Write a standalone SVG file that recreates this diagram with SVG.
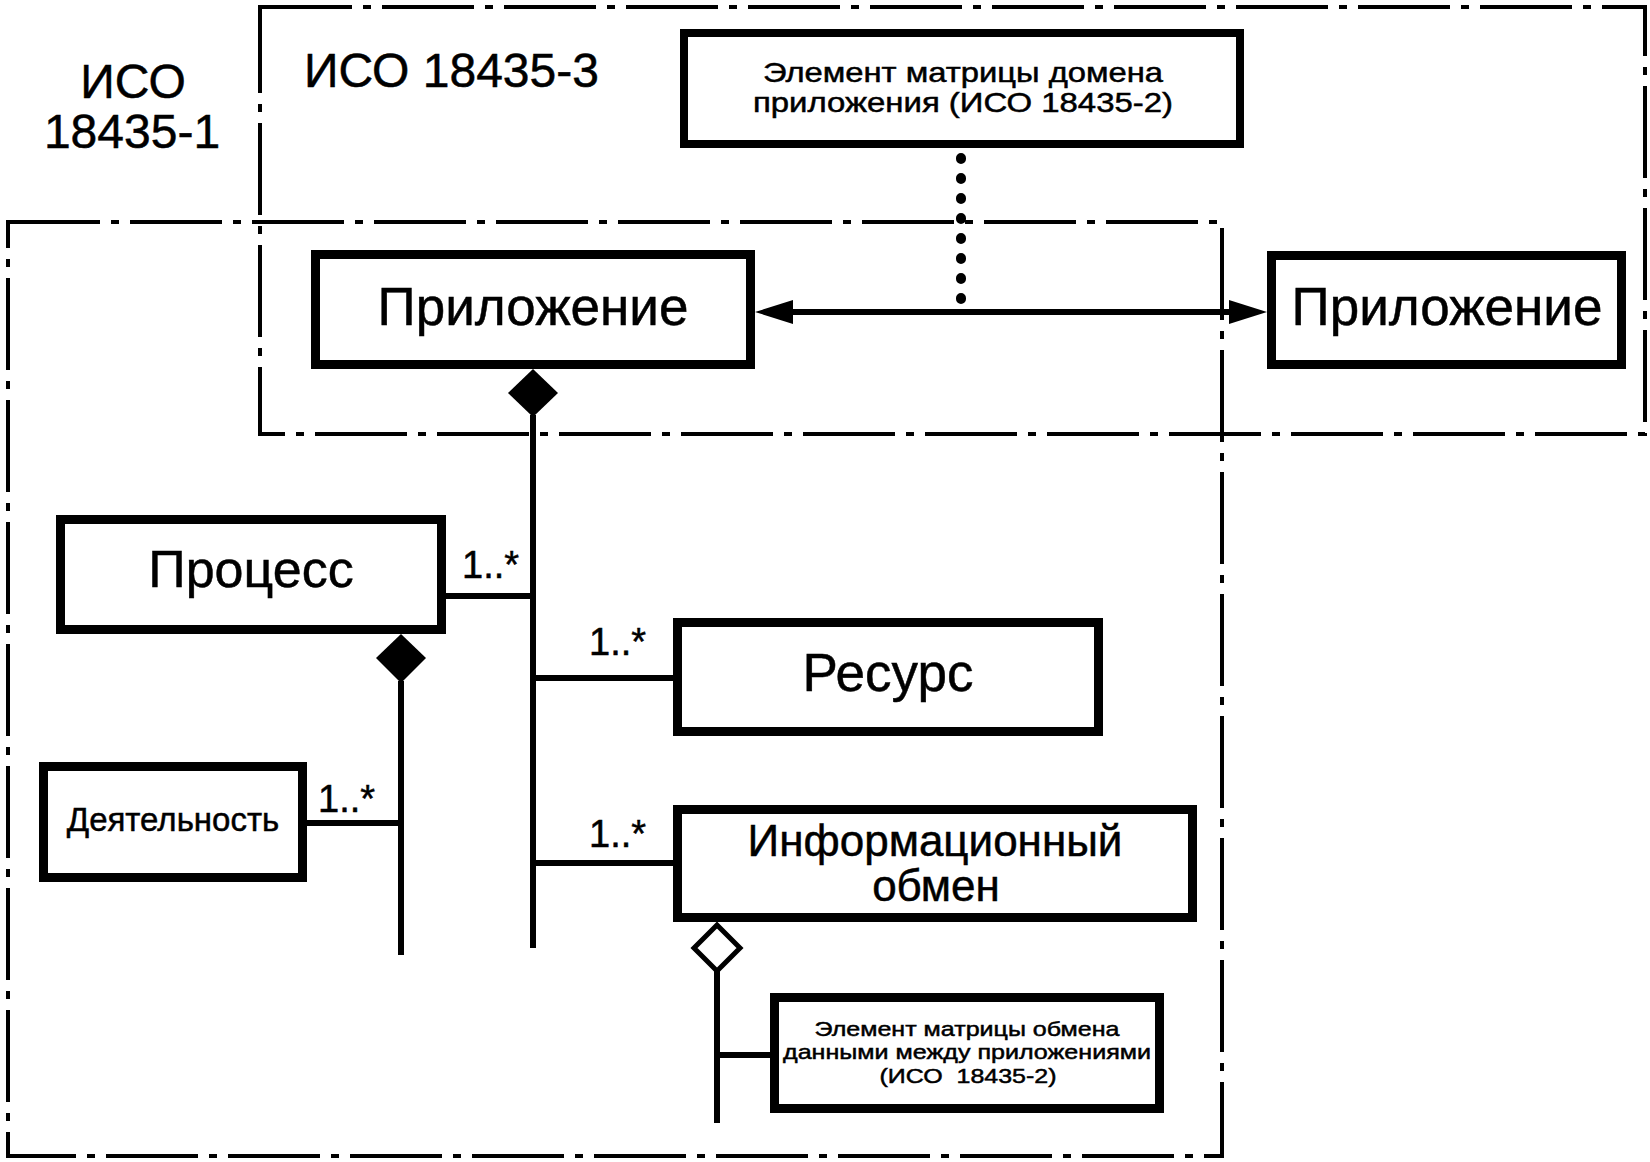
<svg xmlns="http://www.w3.org/2000/svg" width="1650" height="1162" viewBox="0 0 1650 1162">
<style>
text{font-family:"Liberation Sans",Arial,sans-serif;fill:#000;text-anchor:middle;stroke:#000;stroke-width:0.5}
.box{fill:#fff;stroke:#000;stroke-width:9}
.frame{fill:none;stroke:#000;stroke-width:4;stroke-dasharray:92 11 8 11}
.conn{stroke:#000;stroke-width:6;fill:none}
.mult{font-size:38px;text-anchor:start}
.small{font-size:28px}
.tiny{font-size:21px}
</style>
<rect width="1650" height="1162" fill="#fff"/>
<g id="frame-iso3">
<rect class="frame" x="260" y="7" width="1385" height="427"/>
<text x="304" y="87" font-size="48" style="text-anchor:start">ИСО 18435-3</text>
</g>
<g id="frame-iso1">
<rect class="frame" x="8" y="222" width="1214" height="934"/>
<text x="133" y="98" font-size="48">ИСО</text>
<text x="132" y="148" font-size="48">18435-1</text>
</g>
<g id="connectors">
<line class="conn" x1="533" y1="415" x2="533" y2="948"/>
<polygon points="533,369 558,393 533,417 508,393" fill="#000"/>
<line class="conn" x1="446" y1="596" x2="533" y2="596"/>
<line class="conn" x1="533" y1="678" x2="673" y2="678"/>
<line class="conn" x1="533" y1="863" x2="673" y2="863"/>
<line class="conn" x1="401" y1="681" x2="401" y2="955"/>
<polygon points="401,634 426,658 401,683 376,658" fill="#000"/>
<line class="conn" x1="307" y1="823" x2="401" y2="823"/>
<line class="conn" x1="717" y1="970" x2="717" y2="1123"/>
<polygon points="717,925 740,948 717,971 694,948" fill="#fff" stroke="#000" stroke-width="5"/>
<line class="conn" x1="717" y1="1055" x2="770" y2="1055"/>
<line class="conn" x1="790" y1="312" x2="1232" y2="312"/>
<polygon points="755,312 793,300 793,324" fill="#000"/>
<polygon points="1267,312 1229,300 1229,324" fill="#000"/>
<line x1="961" y1="158" x2="961" y2="299" stroke="#000" stroke-width="10" stroke-linecap="round" stroke-dasharray="1 19"/>
<text class="mult" x="462" y="578">1..*</text>
<text class="mult" x="589" y="655">1..*</text>
<text class="mult" x="589" y="847">1..*</text>
<text class="mult" x="318" y="812">1..*</text>
</g>
<g id="node-domain-element">
<rect class="box" x="684" y="33" width="556" height="111" style="stroke-width:8"/>
<text class="small" x="963" y="82" textLength="400" lengthAdjust="spacingAndGlyphs">Элемент матрицы домена</text>
<text class="small" x="963" y="112" textLength="420" lengthAdjust="spacingAndGlyphs">приложения (ИСО 18435-2)</text>
</g>
<g id="node-application">
<rect class="box" x="315.5" y="254.5" width="435" height="110"/>
<text x="533" y="325" font-size="53">Приложение</text>
</g>
<g id="node-application-2">
<rect class="box" x="1271.5" y="255.5" width="350" height="109"/>
<text x="1447" y="325" font-size="53">Приложение</text>
</g>
<g id="node-process">
<rect class="box" x="60.5" y="519.5" width="381" height="110"/>
<text x="251" y="587" font-size="52">Процесс</text>
</g>
<g id="node-activity">
<rect class="box" x="43.5" y="766.5" width="259" height="111"/>
<text x="173" y="831" font-size="33">Деятельность</text>
</g>
<g id="node-resource">
<rect class="box" x="677.5" y="622.5" width="421" height="109"/>
<text x="888" y="691" font-size="53">Ресурс</text>
</g>
<g id="node-info-exchange">
<rect class="box" x="677.5" y="809.5" width="515" height="108"/>
<text x="935" y="856" font-size="44">Информационный</text>
<text x="936" y="901" font-size="44">обмен</text>
</g>
<g id="node-data-element">
<rect class="box" x="774.5" y="997.5" width="385" height="111"/>
<text class="tiny" x="967" y="1036" textLength="305" lengthAdjust="spacingAndGlyphs">Элемент матрицы обмена</text>
<text class="tiny" x="967" y="1059" textLength="368" lengthAdjust="spacingAndGlyphs">данными между приложениями</text>
<text class="tiny" x="968" y="1083" textLength="177" lengthAdjust="spacingAndGlyphs" xml:space="preserve">(ИСО  18435-2)</text>
</g>
</svg>
